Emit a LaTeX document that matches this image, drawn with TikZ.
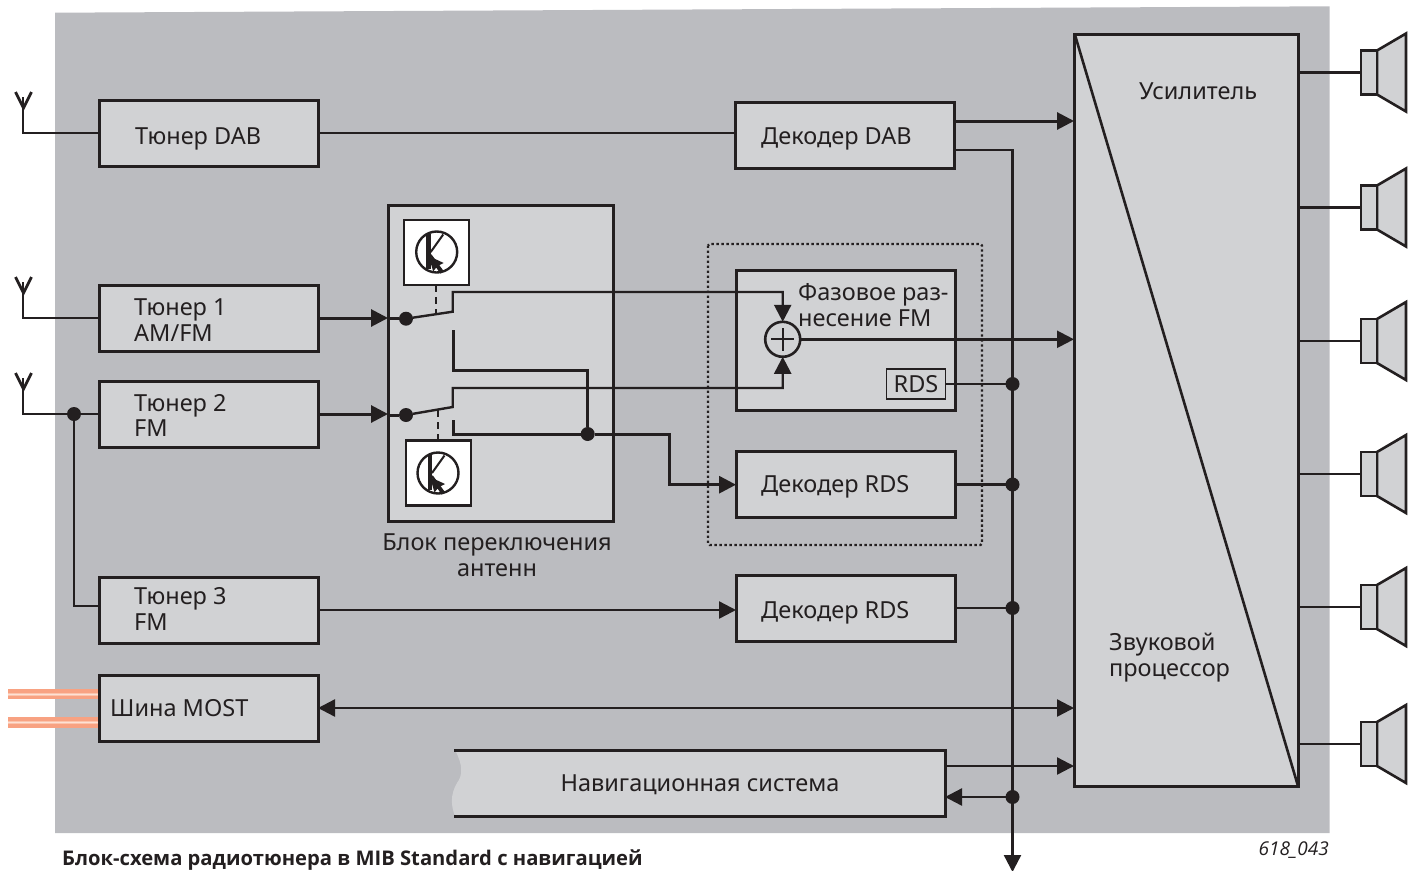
\documentclass[tikz,border=0pt]{standalone}
\usepackage{fontspec}
\setmainfont{Noto Sans}
\newfontfamily\capfont{Open Sans}
\usetikzlibrary{arrows.meta,calc}
\definecolor{bg}{HTML}{BBBCC0}
\definecolor{boxfill}{HTML}{D1D2D4}
\definecolor{ink}{HTML}{231F20}
\definecolor{copper}{HTML}{F8A282}
\definecolor{copperl}{HTML}{FBC4AC}
\tikzset{
 x=1pt,y=-1pt,
 box/.style={draw=ink,fill=boxfill,line width=3pt,minimum width=#1,minimum height=66pt,inner sep=0pt,outer sep=0pt},
 box/.default=219pt,
 lbl/.style={font=\fontsize{23.5}{25.5}\selectfont,text=ink,inner sep=0pt,align=left,anchor=base west},
 wire/.style={draw=ink,line width=2.4pt},
 hwire/.style={draw=ink,line width=3pt},
 arr/.style={wire,-{Triangle[length=17pt,width=17pt]}},
 harr/.style={hwire,-{Triangle[length=17pt,width=17pt]}},
 dot/.style={circle,fill=ink,minimum size=14pt,inner sep=0pt,outer sep=0pt},
 sw/.style={draw=ink,fill=white,line width=2.2pt,inner sep=0pt,outer sep=0pt},
 spk/.style={draw=ink,fill=boxfill,line width=2.6pt,line join=miter},
}
\newcommand{\trans}[2]{%
 \begin{scope}[shift={(#1,#2)}]
  \draw[ink,line width=2.4pt] (0,0) circle (20.5);
  \fill[ink] (-10.5,-18) rectangle (-6,17);
  \draw[ink,line width=2pt] (-6,0) -- (6.5,-17.5);
  \draw[ink,line width=2pt] (-6,3) -- (6,19.5);
  \fill[ink] (-8,4) -- (7,11) -- (2,13.5) -- (6.5,19.5) -- (3.5,21.5) -- (-0.5,15.5) -- (-3.5,19.5) -- cycle;
 \end{scope}}
\newcommand{\speaker}[2]{%
 \draw[spk] (1377,#1-22) -- (1406,#1-39) -- (1406,#1+39) -- (1377,#1+22) -- cycle;
 \node[spk,minimum width=16pt,minimum height=44pt,inner sep=0pt,outer sep=0pt] (#2) at (1369,#1) {};
 \draw[wire] (amp.east |- #2.west) -- (#2.west);}
\begin{document}
\begin{tikzpicture}
\useasboundingbox (0,0) rectangle (1416,870);
\fill[bg] (55,12.7) -- (1329.5,6.3) -- (1329.5,833) -- (55,833) -- cycle;

% copper
\foreach \yy in {694,722.5}{
 \draw[copper,line width=10.5pt] (8,\yy) -- (99,\yy);
 \draw[copperl,line width=3pt] (8,\yy) -- (99,\yy);
 \draw[white!50!copperl,line width=1pt] (8,\yy) -- (99,\yy);
}
% boxes
\node[box] (tdab) at (208.5,133) {};
\node[box] (ddab) at (844.5,135) {};
\node[box] (t1) at (208.5,318) {};
\node[box] (t2) at (208.5,414) {};
\node[box] (t3) at (208.5,610) {};
\node[box] (most) at (208.5,708) {};
\node[box] (drds) at (845.5,484) {};
\node[box] (drdsb) at (845.5,608) {};
\draw[ink,line width=2.4pt,dash pattern=on 2.4pt off 2.6pt,rounded corners=1.5pt] (708,244) rectangle (982,545);
\node[box,minimum height=140pt] (phase) at (845.5,340.7) {};
\node[draw=ink,fill=boxfill,line width=1.6pt,minimum width=59pt,minimum height=30pt,inner sep=0pt,outer sep=0pt] (rds) at (916,384) {};
\node[box=225pt,minimum height=316pt] (block) at (500.5,363) {};
\node[box=224pt,minimum height=752pt] (amp) at (1186,410) {};
\draw[ink,line width=2.6pt] (1075,35) -- (1298,786);

% nav
\fill[boxfill] (455,750) .. controls (463,765) and (463,775) .. (457,783) .. controls (450,795) and (451,806) .. (455,816) -- (945,816) -- (945,750) -- cycle;
\draw[ink,line width=3pt] (454,750) -- (945,750) -- (945,816) -- (454,816);
\coordinate (nav) at (945,783);

% antennas
\foreach \yy/\nm in {133/tdab,318/t1,414/t2}{
 \draw[wire] (23,\yy-36) -- (23,\yy) -- (99,\yy);
 \draw[ink,line width=2.8pt] (15.5,\yy-41) -- (23.5,\yy-25) -- (31.5,\yy-41);
}
\node[dot] (j0) at (74,414) {};
\draw[wire] (j0) |- (t3.west |- 0,606);

% transistors
\node[sw,minimum width=65pt,minimum height=65pt] (q1) at (436.5,252.5) {};
\node[sw,minimum width=65pt,minimum height=65pt] (q2) at (438.5,473) {};
\trans{436.7}{252}
\trans{438}{473}

% switch
\node[dot] (s1) at (406,318.7) {};
\node[dot] (s2) at (406,415) {};
\node[dot] (j1) at (587.7,434) {};
\coordinate (a1) at (452.7,311.7);
\coordinate (a2) at (452.7,407);
\coordinate (q1a) at (436,313.5);
\coordinate (q2a) at (438,409);
\draw[ink,line width=2pt,dash pattern=on 7pt off 5pt] (q1.south -| q1a) -- (q1a);
\draw[ink,line width=2pt,dash pattern=on 7pt off 5pt] (q2.north -| q2a) -- (q2a);
\node[circle,draw=ink,line width=2.6pt,fill=boxfill,minimum size=35pt,inner sep=0pt,outer sep=0pt] (sum) at (782.7,339.3) {};
\draw[ink,line width=2pt] ([xshift=-11.5pt]sum.center) -- ([xshift=11.5pt]sum.center) ([yshift=-11.5pt]sum.center) -- ([yshift=11.5pt]sum.center);
\draw[arr] (s1) -- (a1) -- (452.7,292) -| (sum.north);
\draw[arr] (s2) -- (a2) -- (452.7,388) -| (sum.south);
\draw[hwire] (453.3,330) |- (587.7,370) -- (j1);
\draw[hwire] (453.3,420) |- (j1);
\draw[harr] (j1) -| (669,484.7) -- (drds.west |- 0,484.7);
\draw[harr] (t1.east) -- (block.west |- t1.east);
\draw[harr] (t2.east) -- (block.west |- t2.east);
\draw[hwire] (block.west |- s1) -- (s1);
\draw[hwire] (block.west |- s2) -- (s2);
\draw[wire] (23,414) -- (j0);
\draw[wire] (j0) -- (t2.west);

% top signals
\draw[wire] (tdab.east) -- (ddab.west |- tdab.east);
\draw[harr] (ddab.east |- 0,121) -- (amp.west |- 0,121);
\draw[arr] (t3.east) -- (drdsb.west |- t3.east);
\draw[arr] (sum.east) -- (amp.west |- sum.east);
\draw[wire,{Triangle[length=17pt,width=17pt]}-{Triangle[length=17pt,width=17pt]}] (most.east) -- (amp.west |- most.east);
\draw[arr] (nav |- 0,766) -- (amp.west |- 0,766);

% bus
\coordinate (busend) at (1012.5,872);
\draw[arr] (ddab.east |- 0,150) -| (busend);
\node[dot] (b1) at (1012.5,384) {};
\node[dot] (b2) at (1012.5,484.5) {};
\node[dot] (b3) at (1012.5,608) {};
\node[dot] (b4) at (1012.5,797) {};
\draw[wire] (rds.east) -- (b1);
\draw[wire] (drds.east |- b2) -- (b2);
\draw[wire] (drdsb.east) -- (b3);
\draw[arr] (b4) -- (nav |- b4);

% speakers
\speaker{72.5}{sp1}
\speaker{207.5}{sp2}
\speaker{341}{sp3}
\speaker{474}{sp4}
\speaker{607}{sp5}
\speaker{744}{sp6}

% text
\node[lbl] (l1) at (135,144) {Тюнер DAB};
\node[lbl] (l2) at (761,144.5) {Декодер DAB};
\node[lbl] (l3) at (134,341) {Тюнер 1\\AM/FM};
\node[lbl] (l4) at (134,436.7) {Тюнер 2\\FM};
\node[lbl] (l5) at (134,630) {Тюнер 3\\FM};
\node[lbl] (l6) at (110,716) {Шина MOST};
\node[lbl,align=center,anchor=base] (l7) at (497,576) {Блок переключения\\антенн};
\node[lbl] (l8) at (798,326) {Фазовое раз-\\несение FM};
\node[lbl,anchor=base] (l9) at (916,392.3) {RDS};
\node[lbl] (l10) at (761,492.8) {Декодер RDS};
\node[lbl] (l11) at (761,618) {Декодер RDS};
\node[lbl,anchor=base] (l12) at (700,791) {Навигационная система};
\node[lbl] (l13) at (1139,99) {Усилитель};
\node[lbl] (l14) at (1109,676) {Звуковой\\процессор};
\node[anchor=base west,inner sep=0pt,text=ink,font=\capfont\fontsize{20.2}{22}\selectfont\bfseries] (cap) at (62,865) {Блок-схема радиотюнера в MIB Standard с навигацией};
\node[anchor=base east,inner sep=0pt,text=ink,font=\capfont\fontsize{19}{20}\selectfont\itshape] (code) at (1329,855) {618\_043};
\end{tikzpicture}
\end{document}
